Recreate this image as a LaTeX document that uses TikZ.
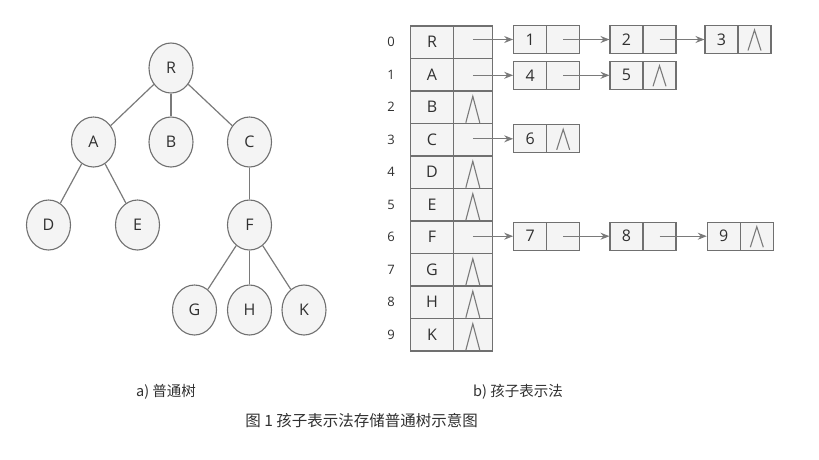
\documentclass[tikz,border=0pt]{standalone}
\usepackage{fontspec}
\setmainfont{Open Sans}
\newfontfamily\cjk{Noto Sans CJK SC}
\usetikzlibrary{shapes.geometric,arrows.meta}
\definecolor{fillc}{HTML}{F4F4F4}
\definecolor{bordc}{HTML}{707070}
\definecolor{linec}{HTML}{7A7A7A}
\definecolor{txtc}{HTML}{303030}
\begin{document}
\begin{tikzpicture}[x=1pt,y=-1pt,
  tnode/.style={ellipse,draw=bordc,fill=fillc,line width=1.1pt,minimum width=44pt,minimum height=50pt,inner sep=0pt,font=\fontsize{16}{16}\selectfont,text=txtc},
  tedge/.style={draw=linec,line width=1.2pt},
  cellbox/.style={rectangle,draw=bordc,fill=fillc,line width=1.1pt,inner sep=0pt,minimum height=32.5pt,font=\fontsize{16}{16}\selectfont,text=txtc},
  lbox/.style={rectangle,draw=bordc,fill=fillc,line width=1.1pt,inner sep=0pt,minimum width=33pt,minimum height=28pt,font=\fontsize{16}{16}\selectfont,text=txtc},
  idx/.style={font=\fontsize{13}{13}\selectfont,text=txtc},
  arr/.style={draw=linec,line width=1.1pt,-{Stealth[length=9pt,width=7pt,inset=3pt]}},
  nullc/.style={draw=linec,line width=1.1pt},
  lbl/.style={font=\cjk\fontsize{14.5}{14.5}\selectfont,text=txtc}
]
\useasboundingbox (0,0) rectangle (819,459);
% tree
\node[tnode] (R) at (171,68) {R};
\node[tnode] (A) at (93.5,142) {A};
\node[tnode] (B) at (171,142) {B};
\node[tnode] (C) at (249.5,142) {C};
\node[tnode] (D) at (48.5,225) {D};
\node[tnode] (E) at (137.5,225) {E};
\node[tnode] (F) at (249.5,225) {F};
\node[tnode] (G) at (194.5,310) {G};
\node[tnode] (H) at (249.5,310) {H};
\node[tnode] (K) at (304,310) {K};
\draw[tedge] (R) -- (A);
\draw[tedge] (R) -- (B);
\draw[tedge] (R) -- (C);
\draw[tedge] (A) -- (D);
\draw[tedge] (A) -- (E);
\draw[tedge] (C) -- (F);
\draw[tedge] (F) -- (G);
\draw[tedge] (F) -- (H);
\draw[tedge] (F) -- (K);
% table
\foreach \i/\l in {0/R,1/A,2/B,3/C,4/D,5/E,6/F,7/G,8/H,9/K}{
  \node[cellbox,minimum width=42.6pt] (d\i) at (432,42.25+32.5*\i) {\l};
  \node[cellbox,minimum width=39pt] (p\i) at (472.8,42.25+32.5*\i) {};
  \node[idx] (x\i) at (391,42.25+32.5*\i) {\i};
}
\foreach \i in {2,4,5,7,8,9}{
  \draw[nullc] ([shift={(-7,15.5)}]p\i.center) -- ([shift={(0,-11)}]p\i.center) -- ([shift={(7,15.5)}]p\i.center);
}
% list nodes
\newcommand\lnode[4]{% name, x of left edge, y center, label
  \node[lbox] (#1d) at (#2+16.5,#3) {#4};
  \node[lbox] (#1p) at (#2+49.5,#3) {};
}
\lnode{a}{513.7}{39.5}{1}
\lnode{b}{610}{39.5}{2}
\lnode{c}{705}{39.5}{3}
\lnode{e}{513.7}{75.3}{4}
\lnode{f}{610}{75.3}{5}
\lnode{g}{513.7}{138.8}{6}
\lnode{h}{513.7}{236.2}{7}
\lnode{k}{610}{236.2}{8}
\lnode{m}{707.3}{236.2}{9}
\foreach \n in {c,f,g,m}{
  \draw[nullc] ([shift={(-6.5,11)}]\n p.center) -- ([shift={(0,-9.5)}]\n p.center) -- ([shift={(6.5,11)}]\n p.center);
}
\draw[arr] (p0.center |- ad.west) -- (ad.west);
\draw[arr] (ap.center) -- (bd.west);
\draw[arr] (bp.center) -- (cd.west);
\draw[arr] (p1.center |- ed.west) -- (ed.west);
\draw[arr] (ep.center) -- (fd.west);
\draw[arr] (p3.center |- gd.west) -- (gd.west);
\draw[arr] (p6.center |- hd.west) -- (hd.west);
\draw[arr] (hp.center) -- (kd.west);
\draw[arr] (kp.center) -- (md.west);
% captions
\node[lbl] (la) at (166,391.5) {a) 普通树};
\node[lbl] (lb) at (518,391.5) {b) 孩子表示法};
\node[font=\cjk\fontsize{15.5}{15.5}\selectfont,text=txtc] (cap) at (361.7,420.5) {图 1 孩子表示法存储普通树示意图};
\end{tikzpicture}
\end{document}
